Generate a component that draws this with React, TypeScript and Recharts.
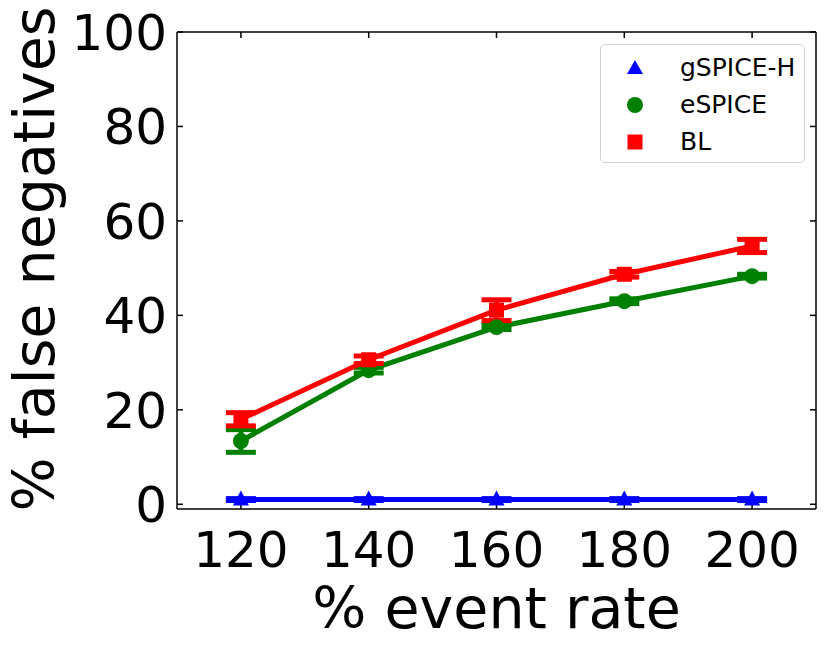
import React from "react";
import { LineChart, Line, XAxis, YAxis, ErrorBar } from "recharts";

// x positions (% event rate)
const eventRates = [120, 140, 160, 180, 200];

// % false negatives per method, with error bar half-widths
const gspiceH = [1.0, 1.0, 1.0, 1.0, 1.0];
const gspiceHErr = [0.2, 0.2, 0.2, 0.2, 0.2];
const espice = [13.4, 28.4, 37.5, 43.0, 48.3];
const espiceErr = [2.4, 0.6, 0.5, 0.5, 0.4];
const bl = [18.0, 30.6, 41.1, 48.7, 54.7];
const blErr = [1.4, 0.8, 2.2, 0.6, 1.4];

const xTicks = [120, 140, 160, 180, 200];
const yTicks = [0, 20, 40, 60, 80, 100];

const data = eventRates.map((rate, i) => ({
  rate,
  gspiceH: gspiceH[i],
  gspiceHErr: gspiceHErr[i],
  espice: espice[i],
  espiceErr: espiceErr[i],
  bl: bl[i],
  blErr: blErr[i],
}));

const FONT = "DejaVu Sans";
const X_DOMAIN = [110, 210];
const Y_DOMAIN = [-1, 100];

// empty tick label so only the tick line is drawn
const NoLabel = () => <g />;

const TriangleDot = (props: any) => {
  const { cx, cy, fill, key } = props;
  return (
    <path
      key={key}
      d={`M${cx},${cy - 9} L${cx + 8},${cy + 6} L${cx - 8},${cy + 6} Z`}
      fill={fill}
    />
  );
};

const CircleDot = (props: any) => {
  const { cx, cy, fill, key } = props;
  return <circle key={key} cx={cx} cy={cy} r={8} fill={fill} />;
};

const SquareDot = (props: any) => {
  const { cx, cy, fill, key } = props;
  return <rect key={key} x={cx - 7.5} y={cy - 7.5} width={15} height={15} fill={fill} />;
};

const legendItems = [
  { name: "gSPICE-H", color: "#0000ff", shape: "triangle" },
  { name: "eSPICE", color: "#008000", shape: "circle" },
  { name: "BL", color: "#ff0000", shape: "square" },
];

const LegendMarker = ({ shape, color }: { shape: string; color: string }) => (
  <svg width={20} height={20} style={{ display: "block" }}>
    {shape === "triangle" && <path d="M10,2 L18,16 L2,16 Z" fill={color} />}
    {shape === "circle" && <circle cx={10} cy={10} r={8} fill={color} />}
    {shape === "square" && <rect x={2.5} y={2.5} width={15} height={15} fill={color} />}
  </svg>
);

export default function App() {
  return (
    <div style={{ position: "absolute", left: 0, top: 0, width: 831, height: 652, background: "#fff" }}>
      <LineChart
        width={831}
        height={652}
        data={data}
        margin={{ top: 32, right: 15, bottom: 0, left: 0 }}
      >
        {/* labelled axes, ticks drawn by the mirrored copies below */}
        <XAxis
          dataKey="rate"
          type="number"
          domain={X_DOMAIN}
          ticks={xTicks}
          allowDataOverflow
          height={143}
          stroke="#000"
          strokeWidth={1.5}
          tickLine={false}
          tickSize={0}
          tickMargin={22}
          tick={{ fill: "#000", fontSize: 50, fontFamily: FONT }}
          label={() => (
            <text x={496.5} y={628} textAnchor="middle" fontSize={57} fontFamily={FONT} fill="#000">
              % event rate
            </text>
          )}
        />
        <YAxis
          type="number"
          domain={Y_DOMAIN}
          ticks={yTicks}
          allowDataOverflow
          width={177}
          stroke="#000"
          strokeWidth={1.5}
          tickLine={false}
          tickSize={0}
          tickMargin={10}
          tick={{ fill: "#000", fontSize: 50, fontFamily: FONT }}
          label={() => (
            <text
              transform="translate(54, 259) rotate(-90)"
              textAnchor="middle"
              fontSize={57}
              fontFamily={FONT}
              fill="#000"
            >
              % false negatives
            </text>
          )}
        />

        {/* inward ticks on all four sides */}
        <XAxis
          xAxisId="bottomTicks"
          orientation="bottom"
          mirror
          dataKey="rate"
          type="number"
          domain={X_DOMAIN}
          ticks={xTicks}
          allowDataOverflow
          height={1}
          axisLine={false}
          tickLine={{ stroke: "#000", strokeWidth: 1.5 }}
          tickSize={6}
          tick={NoLabel}
        />
        <XAxis
          xAxisId="top"
          orientation="top"
          mirror
          dataKey="rate"
          type="number"
          domain={X_DOMAIN}
          ticks={xTicks}
          allowDataOverflow
          height={1}
          stroke="#000"
          strokeWidth={1.5}
          tickLine={{ stroke: "#000", strokeWidth: 1.5 }}
          tickSize={6}
          tick={NoLabel}
        />
        <YAxis
          yAxisId="leftTicks"
          orientation="left"
          mirror
          type="number"
          domain={Y_DOMAIN}
          ticks={yTicks}
          allowDataOverflow
          width={1}
          axisLine={false}
          tickLine={{ stroke: "#000", strokeWidth: 1.5 }}
          tickSize={6}
          tick={NoLabel}
        />
        <YAxis
          yAxisId="right"
          orientation="right"
          mirror
          type="number"
          domain={Y_DOMAIN}
          ticks={yTicks}
          allowDataOverflow
          width={1}
          stroke="#000"
          strokeWidth={1.5}
          tickLine={{ stroke: "#000", strokeWidth: 1.5 }}
          tickSize={6}
          tick={NoLabel}
        />

        <Line
          dataKey="gspiceH"
          stroke="#0000ff"
          fill="#0000ff"
          strokeWidth={5}
          dot={TriangleDot}
          activeDot={false}
          isAnimationActive={false}
        >
          <ErrorBar dataKey="gspiceHErr" direction="y" width={15} strokeWidth={5} stroke="#0000ff" />
        </Line>
        <Line
          dataKey="espice"
          stroke="#008000"
          fill="#008000"
          strokeWidth={5}
          dot={CircleDot}
          activeDot={false}
          isAnimationActive={false}
        >
          <ErrorBar dataKey="espiceErr" direction="y" width={15} strokeWidth={5} stroke="#008000" />
        </Line>
        <Line
          dataKey="bl"
          stroke="#ff0000"
          fill="#ff0000"
          strokeWidth={5}
          dot={SquareDot}
          activeDot={false}
          isAnimationActive={false}
        >
          <ErrorBar dataKey="blErr" direction="y" width={15} strokeWidth={5} stroke="#ff0000" />
        </Line>
      </LineChart>
      <div
        style={{
          position: "absolute",
          left: 600,
          top: 44,
          width: 205,
          height: 119,
          boxSizing: "border-box",
          border: "1.5px solid #d0d0d0",
          borderRadius: 5,
          background: "rgba(255,255,255,0.8)",
          fontFamily: FONT,
          fontSize: 25,
          color: "#000",
        }}
      >
        {legendItems.map((item, i) => (
          <div
            key={item.name}
            style={{
              position: "absolute",
              left: 24,
              top: 12 + i * 37,
              height: 22,
              display: "flex",
              alignItems: "center",
            }}
          >
            <LegendMarker shape={item.shape} color={item.color} />
            <span style={{ marginLeft: 35, lineHeight: "22px" }}>{item.name}</span>
          </div>
        ))}
      </div>
    </div>
  );
}
